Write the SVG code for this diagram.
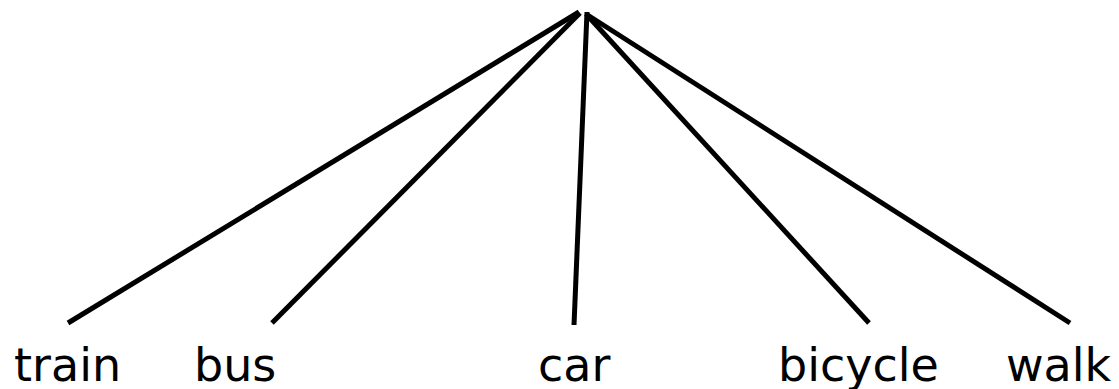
<svg xmlns="http://www.w3.org/2000/svg" width="1119" height="389" viewBox="0 0 1119 389">
<style>
.edge{stroke:#000;stroke-width:5;fill:none;stroke-linecap:butt}
.lbl{font-family:"DejaVu Sans",Verdana,sans-serif;font-size:46px;fill:#000}
</style>
<rect width="1119" height="389" fill="#fff"/>
<g id="connectors">
<line class="edge" x1="68" y1="323" x2="579" y2="12"/>
<line class="edge" x1="272" y1="323" x2="580" y2="13"/>
<line class="edge" x1="574" y1="325" x2="587" y2="12"/>
<line class="edge" x1="869" y1="323" x2="586" y2="14"/>
<line class="edge" x1="1070" y1="323" x2="586" y2="14"/>
</g>
<g id="node-train"><text class="lbl" x="14" y="381">train</text></g>
<g id="node-bus"><text class="lbl" x="194" y="381">bus</text></g>
<g id="node-car"><text class="lbl" x="538" y="381">car</text></g>
<g id="node-bicycle"><text class="lbl" x="778" y="381">bicycle</text></g>
<g id="node-walk"><text class="lbl" x="1006" y="381">walk</text></g>
</svg>
